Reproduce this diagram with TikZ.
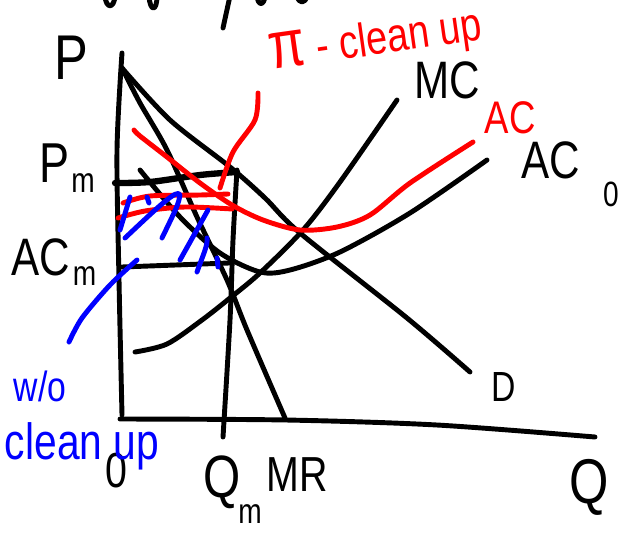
\documentclass[tikz,border=0pt]{standalone}
\usepackage{fontspec}
\newfontfamily\handfont[FakeStretch=0.8]{Liberation Sans}
\definecolor{penred}{RGB}{255,0,0}
\definecolor{penblue}{RGB}{0,0,255}
\usetikzlibrary{positioning}

\begin{document}
\begin{tikzpicture}[x=0.02cm, y=-0.02cm,
    pen/.style={line width=2.8pt, line cap=round, line join=round},
    ink/.style={pen, black},
    redpen/.style={pen, penred},
    bluepen/.style={pen, penblue},
    hand/.style={inner sep=0pt, font=\handfont\fontsize{#1}{#1}\selectfont}
  ]
  \useasboundingbox (0,0) rectangle (621,534);

  % cut-off writing along the top edge
  \draw[ink] (105,-4) .. controls (106,9) and (114,9) .. (115,-4);
  \draw[ink] (149,-4) .. controls (150,12) and (157,12) .. (157,-4);
  \draw[ink] (230,-4) -- (223,28);
  \draw[ink] (257,-4) .. controls (258,6) and (264,6) .. (265,-4);
  \draw[ink] (297,-4) .. controls (299,4) and (305,4) .. (307,-4);

  % axes
  \coordinate (top) at (122,53);
  \coordinate (origin) at (120,419);
  \draw[ink] plot[smooth] coordinates {(top) (117,150) (119,280) (122,415)};
  \draw[ink] plot[smooth] coordinates {(origin) (286,420) (437,425) (595,437)};

  % demand, marginal revenue, marginal cost
  \draw[ink] plot[smooth] coordinates {(122,68) (170,120) (230,167) (265,198)
    (300,233) (407,318) (470,372)};
  \draw[ink] plot[smooth] coordinates {(122,68) (140,103) (167,150) (197,217)
    (227,280) (247,330) (285,418)};
  \draw[ink] plot[smooth] coordinates {(135,352) (167,344) (202,320) (230,298)
    (260,273) (303,230) (340,182) (397,100)};

  % average cost without clean up
  \draw[ink] plot[smooth] coordinates {(140,170) (180,217) (220,253) (260,272)
    (290,270) (340,252) (410,213) (487,160)};

  % monopoly box
  \draw[ink, line width=3.6pt] plot[smooth] coordinates {(115,183) (150,182)
    (200,175) (237,172)};
  \draw[ink] plot[smooth] coordinates {(237,170) (233,240) (230,320) (223,437)};
  \draw[ink] (122,267) -- (229,263);

  % average cost with clean up
  \draw[redpen] plot[smooth] coordinates {(134,130) (140,136) (167,157) (200,183)
    (232,205) (263,220) (300,230) (337,227) (370,215) (410,183) (473,142)};
  \draw[redpen] plot[smooth] coordinates {(123,203) (150,196) (200,195) (228,194)};
  \draw[redpen] plot[smooth] coordinates {(118,218) (145,211) (185,207) (232,209)};

  % hatching
  \draw[bluepen] (130,197) -- (120,230);
  \draw[bluepen] (125,238) .. controls (160,205) and (178,188) .. (180,195)
    .. controls (178,205) .. (162,238);
  \draw[bluepen] (147,197) -- (149,203);
  \draw[bluepen] (180,260) -- (208,210);
  \draw[bluepen] (197,272) .. controls (203,255) and (208,245) .. (207,238);
  \draw[bluepen] (217,258) -- (218,267);

  % labels
  \node[hand=36] (plbl) at (71,58) {P};
  \node[hand=32] (pm) at (54,163) {P};
  \node[hand=20, right=1pt of pm.south east] (pmsub) {m};
  \node[hand=30] (acm) at (41,257) {AC};
  \node[hand=20, right=1pt of acm.south east] (acmsub) {m};
  \node[hand=28] (olbl) at (116,471) {0};
  \node[hand=34] (qm) at (222,482) {Q};
  \node[hand=20] (qmsub) at (250,514) {m};
  \node[hand=28] (mrlbl) at (297,475) {MR};
  \node[hand=36] (qlbl) at (589,487) {Q};
  \node[hand=24] (dlbl) at (504,387) {D};
  \node[hand=30] (mclbl) at (447,80) {MC};
  \node[hand=30] (aczero) at (551,160) {AC};
  \node[hand=20] (aczerosub) at (611,194) {0};
  \node[hand=26, text=penred] (aclbl) at (510,118) {AC};
  \node[hand=27, text=penred, rotate=8] (pilbl) at (376,42)
    {{\fontsize{38}{38}\selectfont π} - clean up};
  \node[hand=24, text=penblue] (wolbl) at (40,386) {w/o};
  \node[hand=29, text=penblue] (cleanlbl) at (82,446) {clean up};

  % pointers
  \coordinate (redtip) at (258,93);
  \coordinate (strip) at (220,188);
  \draw[redpen] plot[smooth] coordinates {(redtip) (255,120) (233,152) (strip)};
  \coordinate (hatch) at (137,260);
  \coordinate (bluetip) at (69,342);
  \draw[bluepen] plot[smooth] coordinates {(hatch) (110,285) (82,318) (bluetip)};
\end{tikzpicture}
\end{document}
